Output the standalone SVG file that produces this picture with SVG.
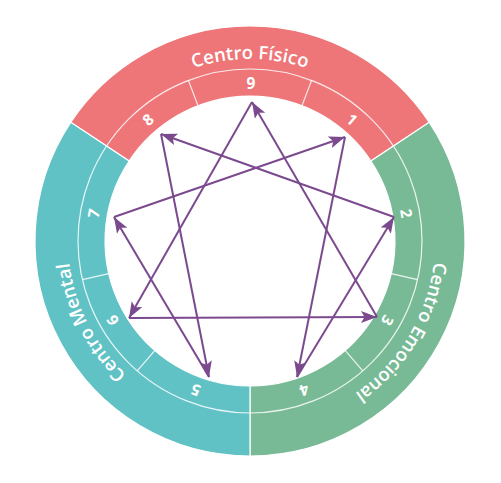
<svg xmlns="http://www.w3.org/2000/svg" width="501" height="483" viewBox="0 0 501 483">
  <defs>
    <style>
      .sec { stroke: #ffffff; stroke-width: 1.2; }
      .div { stroke: #ffffff; stroke-width: 1.2; stroke-opacity: 0.85; fill: none; }
      .num { font-family: "Open Sans", "Liberation Sans", sans-serif; font-weight: 700; font-size: 15.5px; fill: #ffffff; text-anchor: middle; dominant-baseline: central; }
      .lbl { font-family: "Open Sans", "Liberation Sans", sans-serif; font-weight: 600; font-size: 18.5px; fill: #ffffff; text-anchor: middle; }
      .edge { stroke: #7B4A8E; stroke-width: 2; fill: none; marker-end: url(#arr); }
    </style>
    <marker id="arr" markerUnits="userSpaceOnUse" markerWidth="18" markerHeight="14" refX="16" refY="6" orient="auto">
      <path d="M0,0 L16,6 L0,12 L3.5,6 Z" fill="#7B4A8E"/>
    </marker>
    <path id="arcFisico" d="M68,241 A182,182 0 0 1 432,241"/>
    <path id="arcEmo" d="M345.3,82.4 A185,185 0 0 1 154.7,399.6"/>
    <path id="arcMen" d="M334,405.8 A185,185 0 0 1 166,76.2"/>
  </defs>
  <rect width="501" height="483" fill="#ffffff"/>

  <g id="centro-fisico">
    <path class="sec" fill="#EE7679" d="M70.7,122.3 A215,215 0 0 1 429.3,122.3 L370.9,161.0 A145,145 0 0 0 129.1,161.0 Z"/>
    <text class="lbl"><textPath href="#arcFisico" startOffset="50%">Centro Físico</textPath></text>
  </g>
  <g id="centro-emocional">
    <path class="sec" fill="#78BA96" d="M429.3,122.3 A215,215 0 0 1 250,456 L250,386 A145,145 0 0 0 370.9,161.0 Z"/>
    <text class="lbl"><textPath href="#arcEmo" startOffset="50%">Centro Emocional</textPath></text>
  </g>
  <g id="centro-mental">
    <path class="sec" fill="#61C2C6" d="M250,456 A215,215 0 0 1 70.7,122.3 L129.1,161.0 A145,145 0 0 0 250,386 Z"/>
    <text class="lbl"><textPath href="#arcMen" startOffset="50%">Centro Mental</textPath></text>
  </g>

  <g id="ring-dividers">
    <circle class="div" cx="250" cy="241" r="172"/>
    <line class="div" x1="302.0" y1="105.6" x2="311.6" y2="80.4"/>
    <line class="div" x1="198.0" y1="105.6" x2="188.4" y2="80.4"/>
    <line class="div" x1="391.3" y1="273.6" x2="417.6" y2="279.7"/>
    <line class="div" x1="108.7" y1="273.6" x2="82.4" y2="279.7"/>
    <line class="div" x1="345.1" y1="350.4" x2="362.8" y2="370.8"/>
    <line class="div" x1="154.9" y1="350.4" x2="137.2" y2="370.8"/>
  </g>

  <g id="numbers">
    <text class="num" x="251" y="83">9</text>
    <text class="num" x="352.2" y="119.2" transform="rotate(40 352.2 119.2)">1</text>
    <text class="num" x="406.6" y="213.4" transform="rotate(80 406.6 213.4)">2</text>
    <text class="num" x="387.7" y="320.5" transform="rotate(120 387.7 320.5)">3</text>
    <text class="num" x="304.4" y="390.4" transform="rotate(160 304.4 390.4)">4</text>
    <text class="num" x="195.6" y="390.4" transform="rotate(200 195.6 390.4)">5</text>
    <text class="num" x="112.3" y="320.5" transform="rotate(240 112.3 320.5)">6</text>
    <text class="num" x="93.4" y="213.4" transform="rotate(280 93.4 213.4)">7</text>
    <text class="num" x="147.8" y="119.2" transform="rotate(320 147.8 119.2)">8</text>
  </g>

  <g id="connectors">
    <line class="edge" x1="345" y1="137" x2="297" y2="377"/>
    <line class="edge" x1="297" y1="377" x2="394" y2="217"/>
    <line class="edge" x1="394" y1="217" x2="161" y2="134"/>
    <line class="edge" x1="161" y1="134" x2="209" y2="377"/>
    <line class="edge" x1="209" y1="377" x2="114" y2="217"/>
    <line class="edge" x1="114" y1="217" x2="345" y2="137"/>
    <line class="edge" x1="252" y1="102" x2="129" y2="318"/>
    <line class="edge" x1="129" y1="318" x2="377" y2="317"/>
    <line class="edge" x1="377" y1="317" x2="252" y2="102"/>
  </g>
</svg>
